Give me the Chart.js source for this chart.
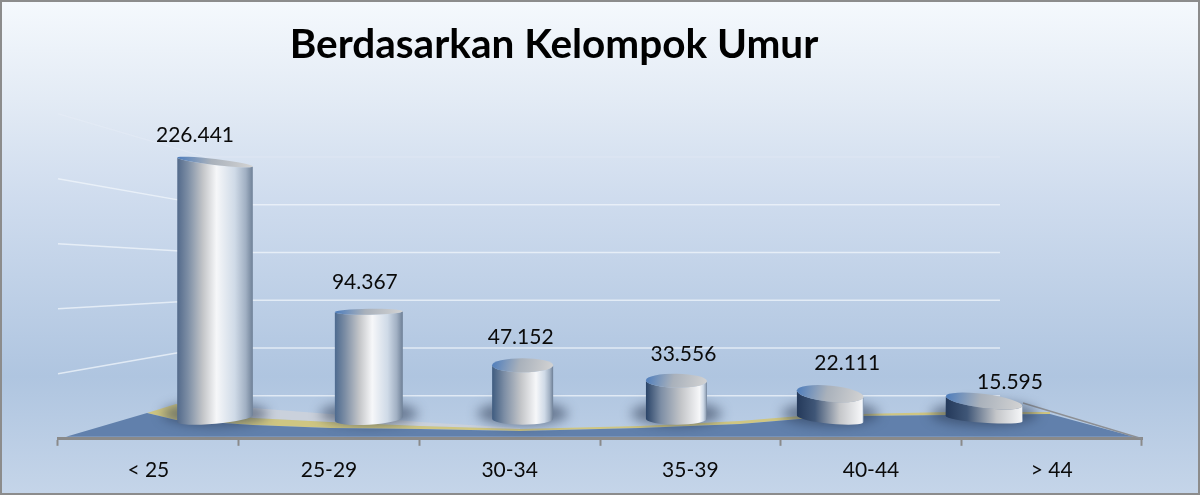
<!DOCTYPE html>
<html>
<head>
<meta charset="utf-8">
<style>
  html, body { margin: 0; padding: 0; background: #c4d4e8; }
  canvas { display: block; }
</style>
<script src="https://cdn.jsdelivr.net/npm/chart.js@4"></script>
</head>
<body>
<canvas id="chart" width="1200" height="495"></canvas>
<script>
// Berdasarkan Kelompok Umur, 3D cylinder look

const categories = ['< 25', '25-29', '30-34', '35-39', '40-44', '> 44'];
const values = [226441, 94367, 47152, 33556, 22111, 15595];
const wallTicks = [0, 50000, 100000, 150000, 200000, 250000];

// Per cylinder look: perspective changes with position along the floor
const cylinders = [
  { w: 76, topTilt: 0.118, baseTilt: -0.09, topR: 3, baseR: 5, light: 0.52, dark: '#52698a', lx: -20, ly: 27 },
  { w: 68, topTilt: -0.015, baseTilt: -0.06, topR: 3, baseR: 6, light: 0.55, dark: '#4d6a8f', lx: -4, ly: 30 },
  { w: 61, topTilt: 0, baseTilt: 0, topR: 7, baseR: 6, light: 0.72, dark: '#3f5c80', lx: -2, ly: 28 },
  { w: 61, topTilt: 0.015, baseTilt: 0, topR: 7, baseR: 6, light: 0.88, dark: '#2a4468', lx: 7, ly: 26 },
  { w: 67, topTilt: 0.1, baseTilt: 0.1, topR: 8, baseR: 5, light: 0.97, dark: '#24395a', lx: 17, ly: 30 },
  { w: 77, topTilt: 0.13, baseTilt: 0.07, topR: 7, baseR: 4, light: 1, dark: '#24395a', lx: 26, ly: 19 }
];

// Floor outline curves
const yellowTop = [[147, 413], [176, 404], [253, 418], [330, 422], [420, 426], [520, 429], [640, 426], [740, 421], [800, 416], [860, 414], [950, 412], [1050, 412]];
const yellowBottom = [[147, 413], [176, 420], [253, 425], [330, 428], [420, 429], [520, 431], [640, 428], [740, 424], [800, 419], [860, 416], [950, 415], [1050, 414]];
const greyTop = [[176, 404], [253, 408], [330, 414], [420, 422], [520, 428]];

const BACK_LEFT = 205;
const BACK_RIGHT = 1000;
const LEFT_WALL_STEP = 0.0013;
const FONT = 'Lato, "Open Sans", sans-serif';

function tracePoints(ctx, pts, start) {
  pts.forEach((p, i) => {
    if (i === 0 && start) ctx.moveTo(p[0], p[1]);
    else ctx.lineTo(p[0], p[1]);
  });
}

function drawBackground(chart) {
  const { ctx, width, height } = chart;
  const bg = ctx.createLinearGradient(0, 0, 0, height);
  bg.addColorStop(0, '#f5f9fd');
  bg.addColorStop(0.2, '#e3ebf5');
  bg.addColorStop(0.4, '#cfdcee');
  bg.addColorStop(0.76, '#afc5e0');
  bg.addColorStop(1, '#c5d5e9');
  ctx.fillStyle = bg;
  ctx.fillRect(0, 0, width, height);
  ctx.strokeStyle = '#8c8c8c';
  ctx.lineWidth = 2;
  ctx.strokeRect(1, 1, width - 2, height - 2);
}

function drawWalls(chart) {
  const { ctx, chartArea, scales } = chart;
  ctx.save();
  ctx.lineWidth = 1.5;
  wallTicks.forEach(v => {
    const y = scales.yWall.getPixelForValue(v);
    ctx.strokeStyle = v === 250000 ? 'rgba(240,245,251,0.25)' : 'rgba(240,245,251,0.75)';
    ctx.beginPath();
    ctx.moveTo(BACK_LEFT, y);
    ctx.lineTo(BACK_RIGHT, y);
    ctx.stroke();
    if (v > 0) {
      ctx.beginPath();
      ctx.moveTo(chartArea.left, chartArea.bottom - v * LEFT_WALL_STEP);
      ctx.lineTo(BACK_LEFT, y);
      ctx.stroke();
    }
  });
  ctx.restore();
}

function drawFloor(chart) {
  const { ctx, chartArea } = chart;
  const front = chartArea.bottom - 2;
  ctx.save();
  // pale band behind the yellow edge
  ctx.fillStyle = 'rgba(208,211,218,0.75)';
  ctx.beginPath();
  tracePoints(ctx, greyTop, true);
  tracePoints(ctx, yellowTop.slice(0, 6).reverse(), false);
  ctx.closePath();
  ctx.fill();
  // yellow edge
  ctx.fillStyle = '#cfc682';
  ctx.beginPath();
  tracePoints(ctx, yellowTop, true);
  tracePoints(ctx, yellowBottom.slice().reverse(), false);
  ctx.closePath();
  ctx.fill();
  // blue floor
  ctx.fillStyle = '#6180ac';
  ctx.beginPath();
  tracePoints(ctx, yellowBottom, true);
  ctx.lineTo(chartArea.right - 8, front);
  ctx.lineTo(chartArea.left + 8, front);
  ctx.closePath();
  ctx.fill();
  // right edge of the floor
  ctx.strokeStyle = '#8c8f94';
  ctx.lineWidth = 1.5;
  ctx.beginPath();
  ctx.moveTo(1023, 403);
  ctx.lineTo(chartArea.right, chartArea.bottom);
  ctx.stroke();
  ctx.restore();
}

function drawShadow(ctx, el, c, base) {
  ctx.save();
  ctx.filter = 'blur(6px)';
  ctx.fillStyle = 'rgba(38,52,78,0.55)';
  ctx.beginPath();
  ctx.ellipse(el.x, base - 5, c.w / 2 + 15, 12, 0, 0, Math.PI * 2);
  ctx.fill();
  ctx.restore();
}

function drawCylinder(ctx, el, c) {
  const rx = c.w / 2;
  const left = el.x - rx;
  const right = el.x + rx;
  const top = el.y;
  const base = el.base;
  const topAngle = Math.atan(c.topTilt);
  const baseAngle = Math.atan(c.baseTilt);

  const side = ctx.createLinearGradient(left, 0, right, 0);
  side.addColorStop(0, c.dark);
  side.addColorStop(c.light * 0.28, c.light > 0.9 ? '#3f5677' : '#7d8ea5');
  side.addColorStop(c.light * 0.66, '#c4c6c9');
  side.addColorStop(c.light, '#f6f7f9');
  if (c.light < 1) {
    side.addColorStop(c.light + (1 - c.light) * 0.5, '#cfdaE7');
    side.addColorStop(c.light + (1 - c.light) * 0.8, '#a1b0c3');
    side.addColorStop(1, '#6d7f96');
  }

  ctx.beginPath();
  ctx.ellipse(el.x, top, rx, c.topR, topAngle, Math.PI, 0, true);
  ctx.ellipse(el.x, base, rx, c.baseR, baseAngle, 0, Math.PI, false);
  ctx.closePath();
  ctx.fillStyle = side;
  ctx.fill();

  const cap = ctx.createLinearGradient(left, top - c.topR, right, top + c.topR);
  cap.addColorStop(0, '#4c7cbc');
  cap.addColorStop(0.45, '#a9b1bb');
  cap.addColorStop(1, '#d4d4d4');
  ctx.beginPath();
  ctx.ellipse(el.x, top, rx, c.topR, topAngle, 0, Math.PI * 2);
  ctx.fillStyle = cap;
  ctx.fill();
}

const cylinderPlugin = {
  id: 'cylinders',
  afterLayout(chart) {
    // title sits left of the canvas centre
    chart.titleBlock.left = 0;
    chart.titleBlock.right = 1108;
  },
  beforeDraw(chart) {
    drawBackground(chart);
  },
  beforeDatasetsDraw(chart) {
    drawWalls(chart);
    drawFloor(chart);
  },
  beforeDatasetDraw(chart, args) {
    const { ctx } = chart;
    const bars = args.meta.data;
    bars.forEach((el, i) => drawShadow(ctx, el, cylinders[i], el.base));
    bars.forEach((el, i) => drawCylinder(ctx, el, cylinders[i]));
    ctx.save();
    ctx.fillStyle = '#0a0a0a';
    ctx.font = '21px ' + FONT;
    ctx.textAlign = 'center';
    ctx.textBaseline = 'middle';
    bars.forEach((el, i) => {
      const c = cylinders[i];
      const text = String(values[i]).replace(/\B(?=(\d{3})+$)/g, '.');
      ctx.fillText(text, el.x + c.lx, el.y - c.ly);
    });
    ctx.restore();
    return false;
  }
};

new Chart(document.getElementById('chart'), {
  type: 'bar',
  data: {
    labels: categories,
    datasets: [{
      label: 'Berdasarkan Kelompok Umur',
      data: values.map((v, i) => ({ x: i, y: v })),
      xAxisID: 'xBars',
      yAxisID: 'y',
      backgroundColor: '#8fa3bb'
    }]
  },
  options: {
    responsive: false,
    animation: false,
    layout: { padding: { left: 58, right: 58, bottom: 0 } },
    plugins: {
      legend: { display: false },
      tooltip: { enabled: false },
      title: {
        display: true,
        text: 'Berdasarkan Kelompok Umur',
        color: '#000',
        font: { family: FONT, size: 40.5, weight: 'bold', lineHeight: 1.2 },
        padding: { top: 21, bottom: 8 }
      }
    },
    scales: {
      x: {
        type: 'category',
        offset: true,
        grid: { drawOnChartArea: false, offset: true, tickLength: 7, tickColor: '#8a8a8a', tickWidth: 2 },
        border: { color: '#8a8a8a', width: 3 },
        ticks: { color: '#0a0a0a', font: { family: FONT, size: 21 }, padding: 12, autoSkip: false, maxRotation: 0 }
      },
      // bars are shifted off the tick centres by the perspective
      xBars: { type: 'linear', display: false, offset: false, min: -1.021, max: 6.027 },
      y: { display: false, min: -17700, max: 300900 },
      yWall: { display: false, min: -45168, max: 333000 }
    }
  },
  plugins: [cylinderPlugin]
});
</script>
</body>
</html>
